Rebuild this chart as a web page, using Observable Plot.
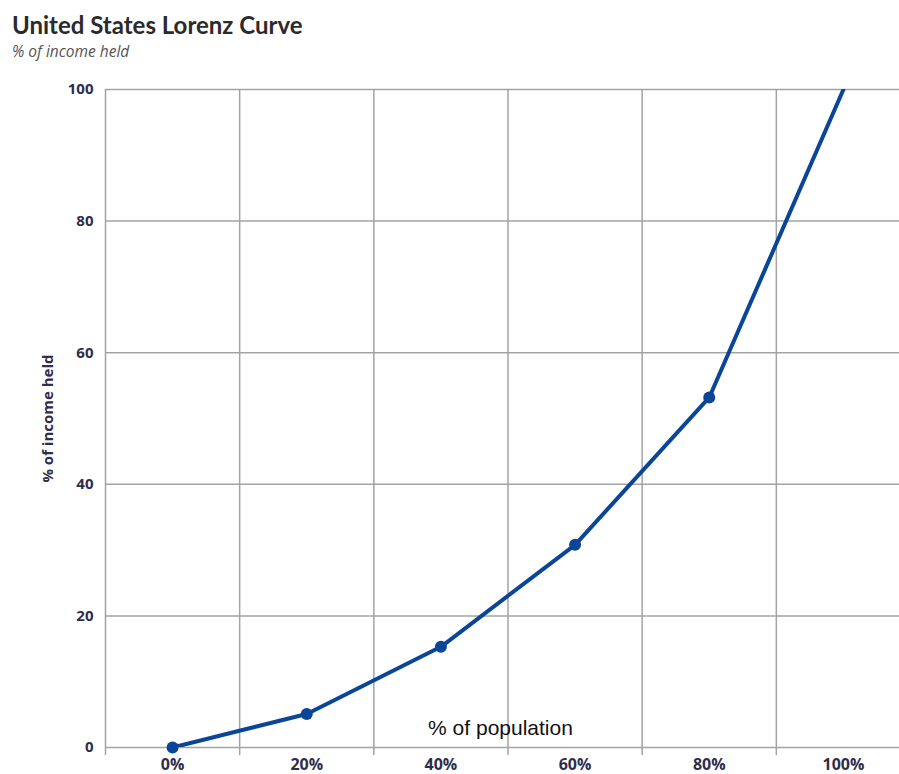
<!DOCTYPE html>
<html>
<head>
<meta charset="utf-8">
<script src="https://cdn.jsdelivr.net/npm/d3@7"></script>
<script src="https://cdn.jsdelivr.net/npm/@observablehq/plot@0.6"></script>
<style>
  body { margin: 0; background: #fff; }
  #wrap { position: relative; width: 899px; height: 774px; overflow: hidden; }
  #head { height: 70px; padding-left: 12px; box-sizing: border-box; }
  #title { font-family: Lato, "Noto Sans", sans-serif; font-weight: bold; font-size: 24px; color: #2b2b2b; padding-top: 11px; line-height: 28px; }
  #subtitle { font-family: "Open Sans", "Noto Sans", sans-serif; font-style: italic; font-size: 15.5px; color: #555; line-height: 18px; margin-top: 3px; }
  svg { display: block; }
</style>
</head>
<body>
<div id="wrap">
  <div id="head">
    <div id="title">United States Lorenz Curve</div>
    <div id="subtitle">% of income held</div>
  </div>
  <div id="chart"></div>
</div>
<script>
const population = [0, 20, 40, 60, 80, 100];
const incomeShare = [0, 5.1, 15.3, 30.8, 53.2, 100];
const yTicks = [0, 20, 40, 60, 80, 100];
const xTicks = [0, 20, 40, 60, 80, 100];
const xGrid = [-10, 10, 30, 50, 70, 90, 110];

const data = population.map((p, i) => ({pop: p, share: incomeShare[i]}));

const navy = "#2e2d4d";
const lineColor = "#0a4597";
const gridColor = "#a3a3a3";

const chart = Plot.plot({
  width: 899,
  height: 704,
  marginTop: 19,
  marginBottom: 27,
  marginLeft: 105,
  marginRight: 0,
  style: {fontFamily: "'Open Sans', 'Noto Sans', sans-serif", fontSize: "16px", fontWeight: "bold", color: navy, background: "#fff"},
  x: {domain: [-10, 110], range: [105, 910]},
  y: {domain: [0, 100]},
  marks: [
    Plot.ruleY(yTicks, {stroke: gridColor, strokeWidth: 1.5}),
    Plot.ruleX(xGrid, {y1: 100, y2: 0, stroke: gridColor, strokeWidth: 1.5, insetBottom: -8}),
    Plot.axisX({ticks: xTicks, tickSize: 0, tickPadding: 11, fontSize: 16, tickFormat: d => d + "%", label: null, fill: navy}),
    Plot.axisY({ticks: yTicks, tickSize: 0, tickPadding: 12, fontSize: 15, label: "% of income held", labelAnchor: "center", labelArrow: "none", labelOffset: 63, fill: navy}),
    Plot.line(data, {x: "pop", y: "share", stroke: lineColor, strokeWidth: 4, clip: true}),
    Plot.dot(data.filter(d => d.share < 100), {x: "pop", y: "share", r: 6, fill: lineColor, stroke: "none"}),
    Plot.text(["% of population"], {frameAnchor: "bottom", lineAnchor: "middle", dy: -19, dx: -2, fontSize: 21, fontWeight: "normal", fontFamily: "'Liberation Sans', Arial, sans-serif", fill: "#111"})
  ]
});
document.getElementById("chart").appendChild(chart);
</script>
</body>
</html>
